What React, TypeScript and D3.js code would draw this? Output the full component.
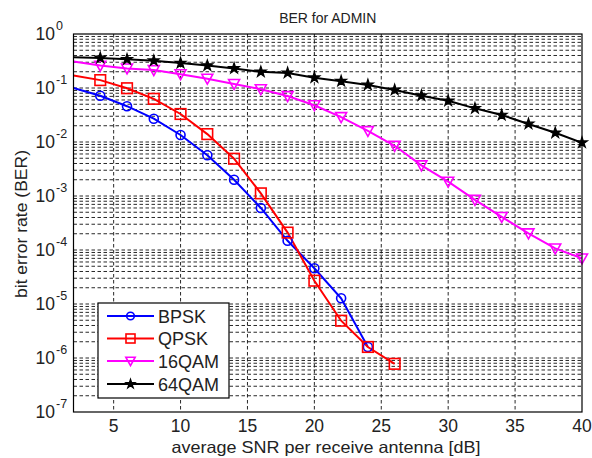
import React from "react";
import * as d3 from "d3";

const title = "BER for ADMIN";
const xLabel = "average SNR per receive antenna [dB]";
const yLabel = "bit error rate (BER)";
const xTicks = [5, 10, 15, 20, 25, 30, 35, 40];
const yExponents = [0, -1, -2, -3, -4, -5, -6, -7];

const snrBPSK = [2, 4, 6, 8, 10, 12, 14, 16, 18, 20, 22, 24];
const berBPSK = [0.1, 0.072, 0.046, 0.027, 0.0135, 0.0057, 0.002, 6.0e-4, 1.48e-4, 4.6e-5, 1.28e-5, 1.6e-6];
const snrQPSK = [2, 4, 6, 8, 10, 12, 14, 16, 18, 20, 22, 24, 26];
const berQPSK = [0.17, 0.14, 0.099, 0.063, 0.033, 0.014, 0.0049, 0.00112, 2.1e-4, 2.7e-5, 4.9e-6, 1.6e-6, 7.8e-7];
const snrQAM = [2, 4, 6, 8, 10, 12, 14, 16, 18, 20, 22, 24, 26, 28, 30, 32, 34, 36, 38, 40];
const ber16QAM = [0.31, 0.26, 0.23, 0.215, 0.18, 0.149, 0.119, 0.095, 0.071, 0.048, 0.029, 0.016, 0.0085, 0.0037, 0.00184, 8.5e-4, 4.1e-4, 2.04e-4, 1.07e-4, 7.0e-5];
const ber64QAM = [0.37, 0.36, 0.34, 0.32, 0.29, 0.26, 0.23, 0.2, 0.19, 0.155, 0.134, 0.114, 0.092, 0.072, 0.058, 0.042, 0.0316, 0.0216, 0.0148, 0.0097];

const seriesNames = ["BPSK", "QPSK", "16QAM", "64QAM"];
const seriesColors = ["#0000ff", "#ff0000", "#ff00ff", "#000000"];
const seriesMarkers = ["circle", "square", "triangle", "star"];

const W = 592, H = 458;
const M = { left: 73.5, right: 582, top: 34, bottom: 412 };
const FONT = "'Liberation Sans', Arial, sans-serif";

function Marker({ type, x, y, color, k = 1 }: { type: string; x: number; y: number; color: string; k?: number }) {
  if (type === "circle") return <circle cx={x} cy={y} r={4.5 * k} fill="none" stroke={color} strokeWidth={1.6} />;
  if (type === "square") return <rect x={x - 5.3 * k} y={y - 5.3 * k} width={10.6 * k} height={10.6 * k} fill="none" stroke={color} strokeWidth={1.6} />;
  if (type === "triangle") {
    const s = 5.5 * k;
    return <path d={`M${x - s},${y - s * 0.8}L${x + s},${y - s * 0.8}L${x},${y + s}Z`} fill="none" stroke={color} strokeWidth={1.6} />;
  }
  const star = d3.symbol().type(d3.symbolStar).size(36 * k * k)();
  return <path d={star || ""} transform={`translate(${x},${y})`} fill={color} stroke={color} strokeWidth={1.2} />;
}

export default function App() {
  const x = d3.scaleLinear().domain([2, 40]).range([M.left, M.right]);
  const y = d3.scaleLog().domain([1e-7, 1]).range([M.bottom, M.top]);

  const series = [
    { snr: snrBPSK, ber: berBPSK },
    { snr: snrQPSK, ber: berQPSK },
    { snr: snrQAM, ber: ber16QAM },
    { snr: snrQAM, ber: ber64QAM },
  ];

  const line = d3.line<[number, number]>().x((d) => x(d[0])).y((d) => y(d[1]));

  const hGrid: number[] = [];
  for (let e = -7; e < 0; e++) {
    for (let m = 1; m <= 9; m++) {
      const v = m * Math.pow(10, e);
      if (v > 1e-7 && v < 1) hGrid.push(v);
    }
  }

  const legendX = 98, legendY = 303, legendW = 131, legendH = 95;
  const legendRow = [316, 338.5, 361, 384];

  return (
    <svg width={W} height={H} style={{ position: "absolute", left: 0, top: 0, background: "#fff" }} fontFamily={FONT}>
      <rect x={0} y={0} width={W} height={H} fill="#fff" />
      <defs>
        <clipPath id="plotclip">
          <rect x={M.left} y={M.top} width={M.right - M.left} height={M.bottom - M.top} />
        </clipPath>
      </defs>
      {/* grid */}
      <g stroke="#111" strokeWidth={0.9} strokeDasharray="3.5,2.5" fill="none">
        {hGrid.map((v, i) => (
          <line key={"h" + i} x1={M.left} x2={M.right} y1={y(v)} y2={y(v)} />
        ))}
        {xTicks.filter((t) => t < 40).map((t) => (
          <line key={"v" + t} x1={x(t)} x2={x(t)} y1={M.top} y2={M.bottom} />
        ))}
      </g>
      {/* series */}
      <g clipPath="url(#plotclip)">
        {series.map((s, i) => (
          <path key={i} d={line(s.snr.map((v, j) => [v, s.ber[j]] as [number, number])) || ""} fill="none" stroke={seriesColors[i]} strokeWidth={2} />
        ))}
      </g>
      {series.map((s, i) => (
        <g key={"m" + i}>
          {s.snr.map((v, j) => (j === 0 ? null : <Marker key={j} type={seriesMarkers[i]} x={x(v)} y={y(s.ber[j])} color={seriesColors[i]} />))}
        </g>
      ))}
      {/* axes box */}
      <rect x={M.left} y={M.top} width={M.right - M.left} height={M.bottom - M.top} fill="none" stroke="#000" strokeWidth={1.2} />
      {/* x ticks */}
      {xTicks.map((t) => (
        <text key={"xt" + t} x={x(t)} y={432} textAnchor="middle" fontSize={17.5} fill="#222">{t}</text>
      ))}
      {/* y ticks */}
      {yExponents.map((e) => (
        <g key={"yt" + e}>
          <text x={55} y={y(Math.pow(10, e)) + 6.3} textAnchor="end" fontSize={17.5} fill="#222">10</text>
          <text x={56} y={y(Math.pow(10, e)) - 4} textAnchor="start" fontSize={12.5} fill="#222">{e}</text>
        </g>
      ))}
      {/* title */}
      <text x={(M.left + M.right) / 2} y={22.5} textAnchor="middle" fontSize={14} fill="#222">{title}</text>
      <text x={326} y={453} textAnchor="middle" fontSize={16.5} textLength={309} lengthAdjust="spacingAndGlyphs" fill="#222">{xLabel}</text>
      <text transform={`translate(27,224) rotate(-90)`} textAnchor="middle" fontSize={16.5} textLength={148} lengthAdjust="spacingAndGlyphs" fill="#222">{yLabel}</text>
      {/* legend */}
      <rect x={legendX} y={legendY} width={legendW} height={legendH} fill="#fff" stroke="#000" strokeWidth={1.2} />
      {seriesNames.map((n, i) => (
        <g key={"lg" + i}>
          <line x1={107} x2={154} y1={legendRow[i]} y2={legendRow[i]} stroke={seriesColors[i]} strokeWidth={2} />
          <Marker type={seriesMarkers[i]} x={130.5} y={legendRow[i]} color={seriesColors[i]} k={0.85} />
          <text x={158} y={legendRow[i] + 6.5} fontSize={18} fill="#222">{n}</text>
        </g>
      ))}
    </svg>
  );
}
